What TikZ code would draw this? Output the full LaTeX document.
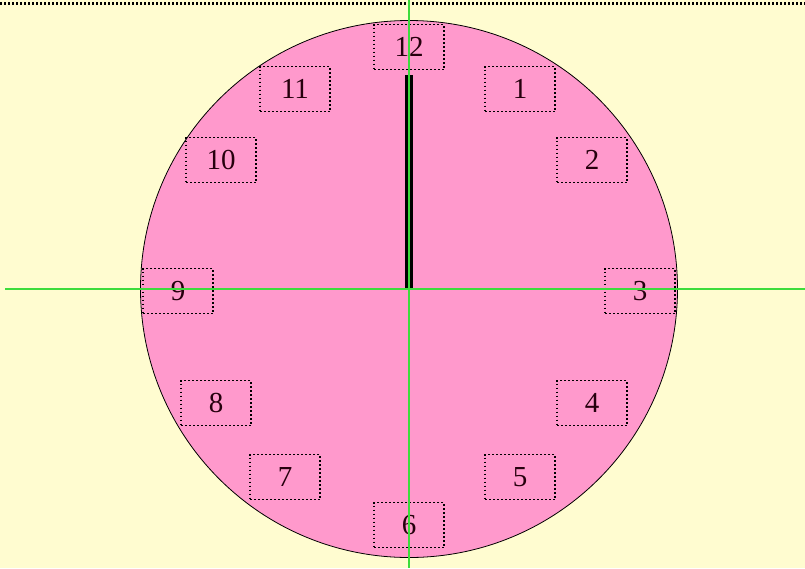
\documentclass[tikz,border=0pt]{standalone}
\usepackage{fontspec}
\setmainfont{Liberation Serif}
\definecolor{bgyellow}{RGB}{255,252,208}
\definecolor{facepink}{RGB}{255,153,204}
\definecolor{axisgreen}{RGB}{60,220,60}
\begin{document}
\begin{tikzpicture}[x=1pt,y=-1pt,
  numbox/.style={draw=black, dash pattern=on 1.6pt off 2.4pt, line width=1.6pt, minimum width=70pt, minimum height=45pt, inner sep=0pt, font=\fontsize{29}{32}\selectfont, text=black!80!purple},
  axis/.style={draw=axisgreen, line width=1.3pt}]
\useasboundingbox (0,0) rectangle (805,568);
\fill[bgyellow] (0,0) rectangle (805,568);
\draw[black, dash pattern=on 2pt off 2pt, line width=3pt] (0,3) -- (805,3);
\coordinate (c) at (409,289);
\node[circle, draw=black, fill=facepink, minimum size=537pt, inner sep=0pt, line width=0.8pt] (face) at (c) {};
\node[numbox] (n12) at (409,47) {12};
\node[numbox] (n1) at (520,89) {1};
\node[numbox] (n2) at (592,160) {2};
\node[numbox] (n3) at (640,291) {3};
\node[numbox] (n4) at (592,403) {4};
\node[numbox] (n5) at (520,477) {5};
\node[numbox] (n6) at (409,525) {6};
\node[numbox] (n7) at (285,477) {7};
\node[numbox] (n8) at (216,403) {8};
\node[numbox] (n9) at (178,291) {9};
\node[numbox] (n10) at (221,160) {10};
\node[numbox] (n11) at (295,89) {11};
\coordinate (tip) at (409,75);
\draw[black, line width=8pt] (c) -- (tip);
\coordinate (vtop) at (409,0);
\coordinate (vbot) at (409,568);
\coordinate (hleft) at (5,289);
\coordinate (hright) at (805,289);
\draw[axis] (vtop) -- (vbot);
\draw[axis] (hleft) -- (hright);
\end{tikzpicture}
\end{document}
